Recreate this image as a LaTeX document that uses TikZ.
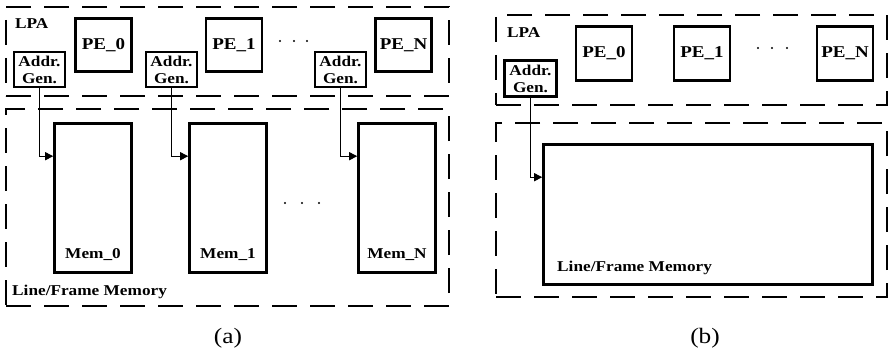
\documentclass[tikz,border=0pt]{standalone}
\usepackage{fontspec}
\setmainfont{Liberation Serif}[FakeStretch=1.15]
\usetikzlibrary{arrows.meta,positioning}
\tikzset{
  >={Triangle[length=8pt,width=8pt]},
  region/.style={draw,line width=1.3pt,dash pattern=on 25pt off 13pt,inner sep=0pt},
  pebox/.style={draw,line width=2.6pt,minimum width=56pt,minimum height=53pt,inner sep=0pt,
    font=\bfseries\fontsize{16.5}{19}\selectfont},
  agbox/.style={draw,line width=2.2pt,minimum width=51pt,minimum height=35pt,inner sep=0pt,
    align=center,font=\bfseries\fontsize{15}{17}\selectfont},
  membox/.style={draw,line width=2.6pt,minimum width=77pt,minimum height=149pt,inner sep=0pt},
  tag/.style={inner sep=0pt,font=\bfseries\fontsize{15}{18}\selectfont},
  captext/.style={inner sep=0pt,font=\fontsize{22}{26}\selectfont},
  flow/.style={->,line width=1.1pt},
}

\begin{document}
\begin{tikzpicture}[x=1pt,y=-1pt]
  \useasboundingbox (0,0) rectangle (889,353);
  % (a) one address generator per memory
  \node[region,minimum width=443pt,minimum height=89pt] (lpaA) at (227.5,51.5) {};
  \node[region,minimum width=443pt,minimum height=197pt] (memA) at (227.5,207.5) {};
  \node[tag,anchor=base west] (lpaAtag) at (15,29) {LPA};
  \node[tag,anchor=base west] (memAtag) at (12,295) {Line/Frame Memory};
  \foreach \x/\g/\m/\s [count=\i] in {103.5/39.5/93/0,234/171.5/228/1,403.5/340.5/397/N}{
    \node[pebox] (pe\i) at (\x,45) {PE\_\s};
    \node[agbox] (ag\i) at (\g,69.5) {Addr.\\Gen.};
    \node[membox] (mem\i) at (\m,198) {};
    \node[tag,anchor=base] (memtag\i) at ([yshift=15pt]mem\i.south) {Mem\_\s};
    \draw[flow] (ag\i.south) |- ([yshift=-34pt]mem\i.north west);
  }
  \foreach \x in {280,294,307} \fill (\x,41) circle (1.1pt);
  \foreach \x in {285,302,319} \fill (\x,203) circle (1.1pt);
  \node[captext] (capA) at (228,338) {(a)};

  % (b) one shared memory
  \node[region,minimum width=391pt,minimum height=90pt] (lpaB) at (691.5,60) {};
  \node[region,minimum width=391pt,minimum height=174pt] (memB) at (691.5,210) {};
  \node[tag,anchor=base west] (lpaBtag) at (507,38) {LPA};
  \foreach \x/\s in {604/0,702/1,845/N}
    \node[pebox,minimum height=54pt] (peb\s) at (\x,53.5) {PE\_\s};
  \node[agbox,minimum width=52pt,minimum height=36pt] (agb) at (530.5,78.5) {Addr.\\Gen.};
  \node[membox,minimum width=329pt,minimum height=140pt] (memb) at (708,214.5) {};
  \node[tag,anchor=base west] (membtag) at (557,271) {Line/Frame Memory};
  \draw[flow] (agb.south) |- ([yshift=-34pt]memb.north west);
  \foreach \x in {758,772,787} \fill (\x,48) circle (1.1pt);
  \node[captext] (capB) at (705,338) {(b)};
\end{tikzpicture}
\end{document}
